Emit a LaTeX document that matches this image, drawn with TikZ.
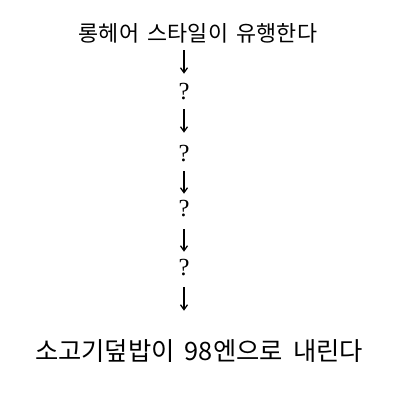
\documentclass[tikz,border=0pt]{standalone}
\usepackage{fontspec}
\usetikzlibrary{arrows.meta}
\newfontfamily\krtop[WordSpace=2.2]{Noto Sans CJK KR}
\newfontfamily\krbot[WordSpace=1.8]{Noto Sans CJK KR}
\newfontfamily\qfont{Liberation Serif}
\newdimen\pxu \pxu=0.025cm
\tikzset{
  toptext/.style={inner sep=0pt, minimum height=20\pxu, font=\krtop\fontsize{15.5}{17}\selectfont},
  bottext/.style={inner sep=0pt, minimum height=26\pxu, font=\krbot\fontsize{18}{20}\selectfont},
  qmark/.style={inner sep=0pt, text height=13\pxu, text depth=1\pxu, font=\qfont\fontsize{17.5}{20}\selectfont},
  arr/.style={line width=0.9pt, -{Straight Barb[length=3.5pt,width=5pt,line width=0.9pt]}},
}
\begin{document}
\begin{tikzpicture}[x=0.025cm,y=-0.025cm]
\useasboundingbox (0,0) rectangle (400,400);
\node[toptext] (top) at (198,33) {롱헤어 스타일이 유행한다};
\node[qmark] (q1) at (184,94) {?};
\node[qmark] (q2) at (184,155) {?};
\node[qmark] (q3) at (184,210) {?};
\node[qmark] (q4) at (184,269) {?};
\node[bottext] (bot) at (199,351) {소고기덮밥이 98엔으로 내린다};
\draw[arr, shorten <=7\pxu, shorten >=13\pxu] (top.south -| q1) -- (q1.north);
\draw[arr, shorten <=8\pxu, shorten >=15\pxu] (q1.south) -- (q2.north);
\draw[arr, shorten <=9\pxu, shorten >=9\pxu] (q2.south) -- (q3.north);
\draw[arr, shorten <=12\pxu, shorten >=10\pxu] (q3.south) -- (q4.north);
\draw[arr, shorten <=11\pxu, shorten >=27\pxu] (q4.south) -- (bot.north -| q4);
\end{tikzpicture}
\end{document}
